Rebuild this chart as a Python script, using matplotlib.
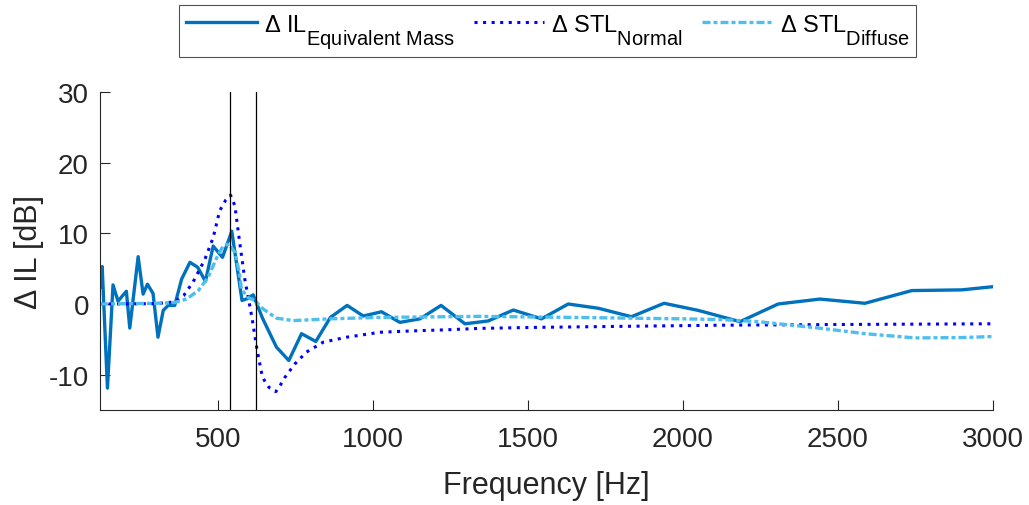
import matplotlib
matplotlib.use("Agg")
import matplotlib.pyplot as plt
import matplotlib._mathtext as _mt

plt.rcParams['font.family'] = ['Liberation Sans', 'DejaVu Sans']
plt.rcParams['mathtext.fontset'] = 'custom'
plt.rcParams['mathtext.rm'] = 'Liberation Sans'
plt.rcParams['mathtext.it'] = 'Liberation Sans:italic'
plt.rcParams['mathtext.bf'] = 'Liberation Sans:bold'
plt.rcParams['axes.unicode_minus'] = False
# larger, lower subscripts, as in the reference legend
_mt.SHRINK_FACTOR = 0.85
_mt.FontConstantsBase.sub1 = 1.0

# Delta IL (equivalent mass)
f_il = [120, 127, 144, 162, 178, 205, 216, 243, 259, 273, 291, 307, 324, 340, 361,
        383, 410, 435, 460, 485, 515, 545, 578, 598, 614, 644, 689, 729, 770, 816,
        863, 917, 969, 1028, 1087, 1152, 1220, 1297, 1372, 1453, 1544, 1630, 1727,
        1834, 1939, 2049, 2184, 2307, 2442, 2587, 2738, 2899, 3000]
il = [2.4, 5.3, -11.9, 2.7, 0.4, 1.8, -3.4, 6.7, 1.4, 2.8, 1.5, -4.7, -0.9, -0.2, -0.2,
      3.5, 5.9, 5.2, 3.2, 8.2, 6.6, 10.3, 0.5, 0.8, 1.3, -2.0, -6.1, -8.0, -4.2, -5.3,
      -1.9, -0.2, -1.7, -1.1, -2.6, -2.1, -0.2, -2.8, -2.4, -0.85, -2.1, 0.0, -0.6,
      -1.8, 0.1, -0.9, -2.5, 0.0, 0.7, 0.1, 1.9, 2.0, 2.45]

# Delta STL normal
f_n = [120, 300, 360, 390, 420, 458, 485, 506, 526, 541, 555, 569, 587, 609, 627,
       644, 665, 687, 700, 716, 748, 786, 840, 915, 1023, 1130, 1238, 1345, 1539,
       2119, 2500, 3000]
stl_n = [0.0, 0.05, 0.3, 1.2, 3.1, 6.3, 9.4, 13.2, 14.75, 15.4, 13.9, 9.2, 3.5, -1.65,
         -6.6, -10.4, -11.8, -12.4, -11.6, -10.4, -8.5, -6.8, -5.4, -4.7, -4.0, -3.8,
         -3.65, -3.45, -3.3, -3.0, -2.9, -2.8]

# Delta STL diffuse
f_d = [120, 300, 360, 399, 437, 469, 496, 517, 536, 555, 569, 576, 598, 619, 646,
       689, 743, 861, 1023, 1345, 1646, 2000, 2119, 2243, 2351, 2447, 2587, 2748,
       2899, 3000]
stl_d = [0.0, 0.1, 0.2, 0.7, 1.9, 3.8, 6.5, 8.2, 8.5, 7.3, 4.5, 2.1, 0.9, 0.5, -0.7,
         -2.0, -2.35, -2.1, -1.9, -1.75, -1.9, -2.1, -2.2, -2.5, -3.0, -3.45, -4.2,
         -4.8, -4.75, -4.6]

vlines = [540, 622]
xticks = [500, 1000, 1500, 2000, 2500, 3000]
yticks = [-10, 0, 10, 20, 30]

fig = plt.figure(figsize=(10.29, 5.06), dpi=100)
ax = fig.add_axes([100/1029, 1-411/506, (993-100)/1029, (411-93)/506])

l1, = ax.plot(f_il, il, color='#0072BD', lw=2.4, ls='-')
l2, = ax.plot(f_n, stl_n, color='#0000FF', lw=2.2, ls=(0, (1, 1.8)))
l3, = ax.plot(f_d, stl_d, color='#4DBEEE', lw=2.4, ls=(0, (2.4, 0.9, 1.2, 0.9)))
for v in vlines:
    ax.axvline(v, color='black', lw=0.9)

ax.set_xlim(120, 3000)
ax.set_ylim(-15, 30)
ax.set_xticks(xticks)
ax.set_yticks(yticks)
ax.tick_params(direction='in', length=7, width=0.8, labelsize=20, colors='#262626')
ax.tick_params(axis='x', pad=11.3)
ax.tick_params(axis='y', pad=8)
for s in ['top', 'right']:
    ax.spines[s].set_visible(False)
for s in ['left', 'bottom']:
    ax.spines[s].set_color('#262626')
    ax.spines[s].set_linewidth(0.8)

ax.set_xlabel('Frequency [Hz]', fontsize=22, color='#262626', labelpad=13)
ax.set_ylabel('Δ IL [dB]', fontsize=22, color='#262626', labelpad=3.5)

labels = [r'Δ IL$_{\mathrm{Equivalent\ Mass}}$',
          r'Δ STL$_{\mathrm{Normal}}$',
          r'Δ STL$_{\mathrm{Diffuse}}$']
leg = fig.legend([l1, l2, l3], labels, loc='upper center', ncol=3,
                 bbox_to_anchor=(0.532, 0.989), bbox_transform=fig.transFigure,
                 fontsize=17, frameon=True, fancybox=False, edgecolor='#262626',
                 handlelength=3.0, handletextpad=0.3, columnspacing=0.8,
                 borderpad=0.3, borderaxespad=0)
leg.get_frame().set_linewidth(0.8)

fig.savefig('out.png', dpi=100)
